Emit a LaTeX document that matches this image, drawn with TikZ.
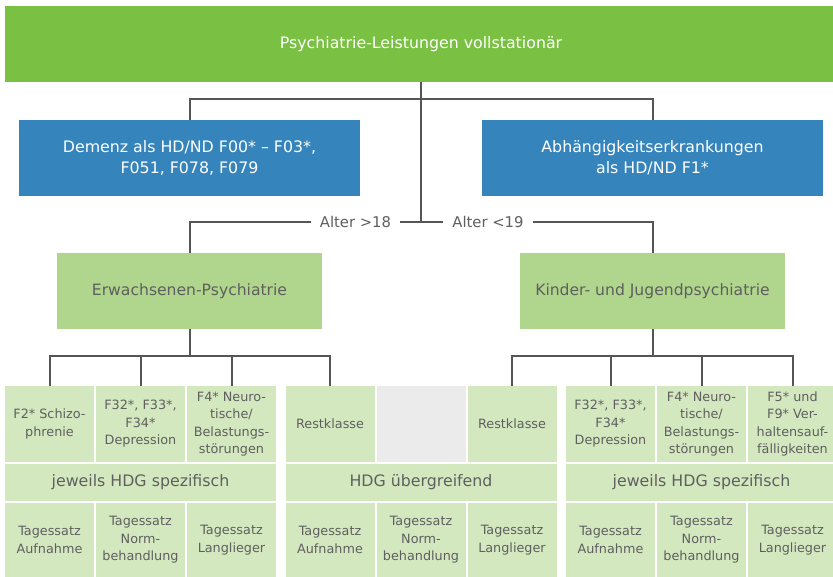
\documentclass[tikz,border=0pt]{standalone}
\usepackage{fontspec}
\setmainfont{DejaVu Sans}
\newfontfamily\cellfont{DejaVu Sans}
\usetikzlibrary{positioning}
\definecolor{topgreen}{HTML}{7AC143}
\definecolor{boxblue}{HTML}{3584BC}
\definecolor{midgreen}{HTML}{B0D58C}
\definecolor{cellgreen}{HTML}{D4E8C0}
\definecolor{cellgray}{HTML}{EBEBEB}
\definecolor{linegray}{HTML}{555555}
\definecolor{textgray}{HTML}{5F5F5F}
\tikzset{
  banner/.style={fill=topgreen, text=white, minimum width=832pt, minimum height=76pt, inner sep=0pt, outer sep=0pt, font=\fontsize{15.8}{18}\selectfont},
  bluebox/.style={fill=boxblue, text=white, minimum width=341pt, minimum height=76pt, inner sep=0pt, outer sep=0pt, align=center, font=\fontsize{15.8}{21}\selectfont},
  groupbox/.style={fill=midgreen, text=textgray, minimum width=265pt, minimum height=76pt, inner sep=0pt, outer sep=0pt, font=\fontsize{15.6}{18}\selectfont},
  cell/.style={fill=cellgreen, text=textgray, minimum width=89pt, minimum height=76pt, inner sep=0pt, outer sep=0pt, align=center, font=\cellfont\fontsize{12.8}{17.5}\selectfont},
  lowcell/.style={cell, minimum height=74pt},
  hdgbar/.style={fill=cellgreen, text=textgray, minimum width=271pt, minimum height=37pt, inner sep=0pt, outer sep=0pt, font=\cellfont\fontsize{15.8}{18}\selectfont},
  agelabel/.style={fill=white, text=textgray, inner xsep=9pt, inner ysep=1pt, outer sep=0pt, font=\fontsize{14.8}{17}\selectfont},
  conn/.style={draw=linegray, line width=2pt},
}
\begin{document}
\begin{tikzpicture}[x=1pt, y=-1pt]
  \useasboundingbox (0,0) rectangle (833,576);

  % upper tree
  \node[banner] (top) at (421,44) {Psychiatrie-Leistungen vollstationär};
  \node[bluebox] (demenz) at (189.5,158) {Demenz als HD/ND F00* – F03*,\\F051, F078, F079};
  \node[bluebox] (abh) at (652.5,158) {Abhängigkeitserkrankungen\\als HD/ND F1*};
  \node[groupbox] (erw) at (189.5,291) {Erwachsenen-Psychiatrie};
  \node[groupbox] (kju) at (652.5,291) {Kinder- und Jugendpsychiatrie};
  \node[agelabel] (older) at (355.5,222) {Alter >18};
  \node[agelabel] (younger) at (488,222) {Alter <19};

  \coordinate (j0) at (421,99);
  \coordinate (j1) at (421,222);

  % left table group
  \node[cell] (l1) at (49.5,424) {F2* Schizo-\\phrenie};
  \node[cell] (l2) [right=2pt of l1] {F32*, F33*,\\F34*\\Depression};
  \node[cell] (l3) [right=2pt of l2] {F4* Neuro-\\tische/\\Belastungs-\\störungen};
  \node[hdgbar] (lbar) [below=2pt of l2] {jeweils HDG spezifisch};
  \node[lowcell] (lt2) [below=2pt of lbar] {Tagessatz\\Norm-\\behandlung};
  \node[lowcell] (lt1) [left=2pt of lt2] {Tagessatz\\Aufnahme};
  \node[lowcell] (lt3) [right=2pt of lt2] {Tagessatz\\Langlieger};

  % middle table group
  \node[cell] (m1) at (330,424) {Restklasse};
  \node[cell, fill=cellgray] (m2) [right=2pt of m1] {};
  \node[cell] (m3) [right=2pt of m2] {Restklasse};
  \node[hdgbar] (mbar) [below=2pt of m2] {HDG übergreifend};
  \node[lowcell] (mt2) [below=2pt of mbar] {Tagessatz\\Norm-\\behandlung};
  \node[lowcell] (mt1) [left=2pt of mt2] {Tagessatz\\Aufnahme};
  \node[lowcell] (mt3) [right=2pt of mt2] {Tagessatz\\Langlieger};

  % right table group
  \node[cell] (r1) at (610.5,424) {F32*, F33*,\\F34*\\Depression};
  \node[cell] (r2) [right=2pt of r1] {F4* Neuro-\\tische/\\Belastungs-\\störungen};
  \node[cell] (r3) [right=2pt of r2] {F5* und\\F9* Ver-\\haltensauf-\\fälligkeiten};
  \node[hdgbar] (rbar) [below=2pt of r2] {jeweils HDG spezifisch};
  \node[lowcell] (rt2) [below=2pt of rbar] {Tagessatz\\Norm-\\behandlung};
  \node[lowcell] (rt1) [left=2pt of rt2] {Tagessatz\\Aufnahme};
  \node[lowcell] (rt3) [right=2pt of rt2] {Tagessatz\\Langlieger};

  \coordinate (jl) at (189.5,356);
  \coordinate (jr) at (652.5,356);

  % connectors
  \draw[conn] (top.south) -- (j0) -- (j1);
  \draw[conn] (demenz.north) |- (j0) -| (abh.north);
  \draw[conn] (erw.north) |- (older.west);
  \draw[conn] (older.east) -- (j1) -- (younger.west);
  \draw[conn] (younger.east) -| (kju.north);
  \draw[conn] (erw.south) -- (jl);
  \draw[conn] (kju.south) -- (jr);
  \draw[conn] (jl) -| (l1.north);
  \draw[conn] (jl) -| (l2.north);
  \draw[conn] (jl) -| (l3.north);
  \draw[conn] (jl) -| (m1.north);
  \draw[conn] (jr) -| (m3.north);
  \draw[conn] (jr) -| (r1.north);
  \draw[conn] (jr) -| (r2.north);
  \draw[conn] (jr) -| (r3.north);
\end{tikzpicture}
\end{document}
